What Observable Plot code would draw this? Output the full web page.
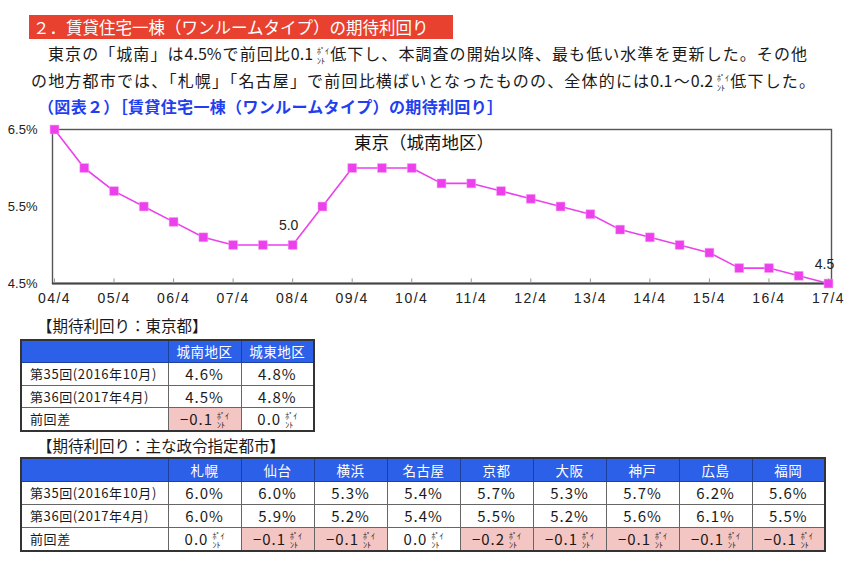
<!DOCTYPE html>
<html><head><meta charset="utf-8">
<script src="https://cdn.jsdelivr.net/npm/d3@7"></script>
<script src="https://cdn.jsdelivr.net/npm/@observablehq/plot@0.6"></script>
<style>
body{margin:0;background:#fff;}
#page{position:relative;width:853px;height:570px;overflow:hidden;font-family:"Noto Sans CJK JP",sans-serif;color:#1a1a1a;background:#fff;}
.abs{position:absolute;}
#bar{left:29px;top:15px;width:424px;height:24px;background:#E8412F;color:#fff;font-size:16.5px;line-height:24px;padding-left:4px;box-sizing:border-box;white-space:nowrap;}
.line{font-size:16px;line-height:22px;height:22px;text-align:justify;text-align-last:justify;overflow:visible;}
#l1{left:48px;top:42px;width:759px;}
#l2{left:31px;top:69px;width:784px;}
#l3{left:38px;top:95px;width:465px;color:#1f3ff0;font-weight:bold;}
.pt{display:inline-block;font-size:8px;line-height:9.5px;vertical-align:middle;text-align:left;text-align-last:left;letter-spacing:0;margin-left:4px;}
.sec{font-size:15.5px;line-height:20px;white-space:nowrap;}
#chart{left:0;top:115px;width:853px;}
table{position:absolute;border-collapse:collapse;table-layout:fixed;border:2px solid #333;}
td{border:1.5px solid #666;padding:0;text-align:center;font-size:15px;letter-spacing:1px;white-space:nowrap;}
td.lab{text-align:left;padding-left:8px;font-size:13px;letter-spacing:0.6px;}
tr.hd td{background:#2C60E8;color:#fff;font-size:13.5px;letter-spacing:0.5px;border-color:#1d3f9e;}
td.neg{background:#F4C6C3;}
</style>
</head><body>
<div id="page">
  <div id="bar" class="abs">２．賃貸住宅一棟（ワンルームタイプ）の期待利回り</div>
  <div id="l1" class="abs line"></div>
  <div id="l2" class="abs line"></div>
  <div id="l3" class="abs line">（図表２）［賃貸住宅一棟（ワンルームタイプ）の期待利回り］</div>
  <div id="chart" class="abs"></div>
  <div class="abs sec" style="left:37px;top:315px;">【期待利回り：東京都】</div>
  <div class="abs sec" style="left:37px;top:435px;">【期待利回り：主な政令指定都市】</div>
</div>
<script>
// ---- chart data ----
const periods = ["04/4","04/10","05/4","05/10","06/4","06/10","07/4","07/10","08/4","08/10","09/4","09/10","10/4","10/10","11/4","11/10","12/4","12/10","13/4","13/10","14/4","14/10","15/4","15/10","16/4","16/10","17/4"];
const rates = [6.5,6.0,5.7,5.5,5.3,5.1,5.0,5.0,5.0,5.5,6.0,6.0,6.0,5.8,5.8,5.7,5.6,5.5,5.4,5.2,5.1,5.0,4.9,4.7,4.7,4.6,4.5];
const xTickLabels = ["04/4","05/4","06/4","07/4","08/4","09/4","10/4","11/4","12/4","13/4","14/4","15/4","16/4","17/4"];
const yTicks = [4.5,5.5,6.5];
const labelPeriods = ["08/4","17/4"];
const chartTitle = "東京（城南地区）";

// ---- table data ----
const rowLabels = ["第35回(2016年10月)","第36回(2017年4月)","前回差"];
const tokyoAreas = ["城南地区","城東地区"];
const tokyoPrev = [4.6,4.8];
const tokyoCurr = [4.5,4.8];
const cities = ["札幌","仙台","横浜","名古屋","京都","大阪","神戸","広島","福岡"];
const cityPrev = [6.0,6.0,5.3,5.4,5.7,5.3,5.7,6.2,5.6];
const cityCurr = [6.0,5.9,5.2,5.4,5.5,5.2,5.6,6.1,5.5];

const PT = '<span class="pt">ﾎﾟｲ<br>ﾝﾄ</span>';
document.getElementById("l1").innerHTML = "東京の「城南」は4.5%で前回比0.1" + PT + "低下し、本調査の開始以降、最も低い水準を更新した。その他";
document.getElementById("l2").innerHTML = "の地方都市では、「札幌」「名古屋」で前回比横ばいとなったものの、全体的には0.1～0.2" + PT + "低下した。";

const data = periods.map((p, i) => ({period: p, rate: rates[i]}));
const annot = data.filter(d => labelPeriods.includes(d.period));
const mag = "#EC40EC";
const font = "Liberation Sans, Arial, sans-serif";

const chart = Plot.plot({
  width: 853, height: 195,
  marginLeft: 52, marginRight: 22, marginTop: 14, marginBottom: 27,
  style: {fontFamily: font, color: "#222", background: "transparent"},
  x: {type: "point", domain: periods, padding: 0, round: false, insetLeft: 2, insetRight: 3},
  y: {domain: [4.5, 6.5]},
  marks: [
    Plot.frame({stroke: "#555", strokeWidth: 1.4}),
    Plot.ruleY([4.5], {stroke: "#444", strokeWidth: 2}),
    Plot.ruleX(xTickLabels, {x: d => d, y1: 4.5, y2: 4.56, stroke: "#999", strokeWidth: 1}),
    Plot.axisY({ticks: yTicks, tickFormat: d => d.toFixed(1) + "%", tickSize: 0, tickPadding: 15, fontSize: 13, label: null}),
    Plot.axisX({ticks: xTickLabels, tickSize: 0, tickPadding: 10, fontSize: 14, label: null}),
    Plot.line(data, {x: "period", y: "rate", stroke: mag, strokeWidth: 1.6}),
    Plot.dot(data, {x: "period", y: "rate", symbol: "square", r: 5, fill: mag, stroke: "#f7a0f7", strokeWidth: 0.5}),
    Plot.text(annot, {x: "period", y: "rate", text: d => d.rate.toFixed(1), dy: -19, dx: -4, fontSize: 14, fill: "#222"}),
    Plot.text([chartTitle], {frameAnchor: "top", lineAnchor: "middle", dy: 14, dx: -18, fontSize: 17.5, fontFamily: "Noto Sans CJK JP", fill: "#111"})
  ]
});
chart.querySelectorAll("g[aria-label='x-axis tick label'] text").forEach(t => t.setAttribute("letter-spacing", "1.5"));
document.getElementById("chart").appendChild(chart);

// ---- tables ----
const fmtPct = v => v.toFixed(1) + "%";
const fmtDiff = v => {
  const d = Math.round(v * 10) / 10;
  return (d < 0 ? "−" : "") + Math.abs(d).toFixed(1) + PT;
};
function buildTable(cols, prev, curr, left, top, heights) {
  const t = document.createElement("table");
  t.style.left = left + "px"; t.style.top = top + "px";
  const widths = [147].concat(cols.map(() => 73));
  t.style.width = widths.reduce((a, b) => a + b, 0) + "px";
  const cg = document.createElement("colgroup");
  widths.forEach(w => { const c = document.createElement("col"); c.style.width = w + "px"; cg.appendChild(c); });
  t.appendChild(cg);
  const hr = t.insertRow(); hr.className = "hd"; hr.style.height = heights[0] + "px";
  hr.insertCell().textContent = "";
  cols.forEach(c => { hr.insertCell().textContent = c; });
  [prev, curr].forEach((arr, r) => {
    const tr = t.insertRow(); tr.style.height = heights[r + 1] + "px";
    const l = tr.insertCell(); l.className = "lab"; l.textContent = rowLabels[r];
    arr.forEach(v => { tr.insertCell().textContent = fmtPct(v); });
  });
  const dr = t.insertRow(); dr.style.height = heights[3] + "px";
  const dl = dr.insertCell(); dl.className = "lab"; dl.textContent = rowLabels[2];
  cols.forEach((c, i) => {
    const d = Math.round((curr[i] - prev[i]) * 10) / 10;
    const td = dr.insertCell(); td.innerHTML = fmtDiff(d);
    if (d < 0) td.className = "neg";
  });
  document.getElementById("page").appendChild(t);
}
buildTable(tokyoAreas, tokyoPrev, tokyoCurr, 20, 339, [22, 23, 22, 22]);
buildTable(cities, cityPrev, cityCurr, 20, 457, [23, 23, 23, 22]);
</script>
</body></html>
